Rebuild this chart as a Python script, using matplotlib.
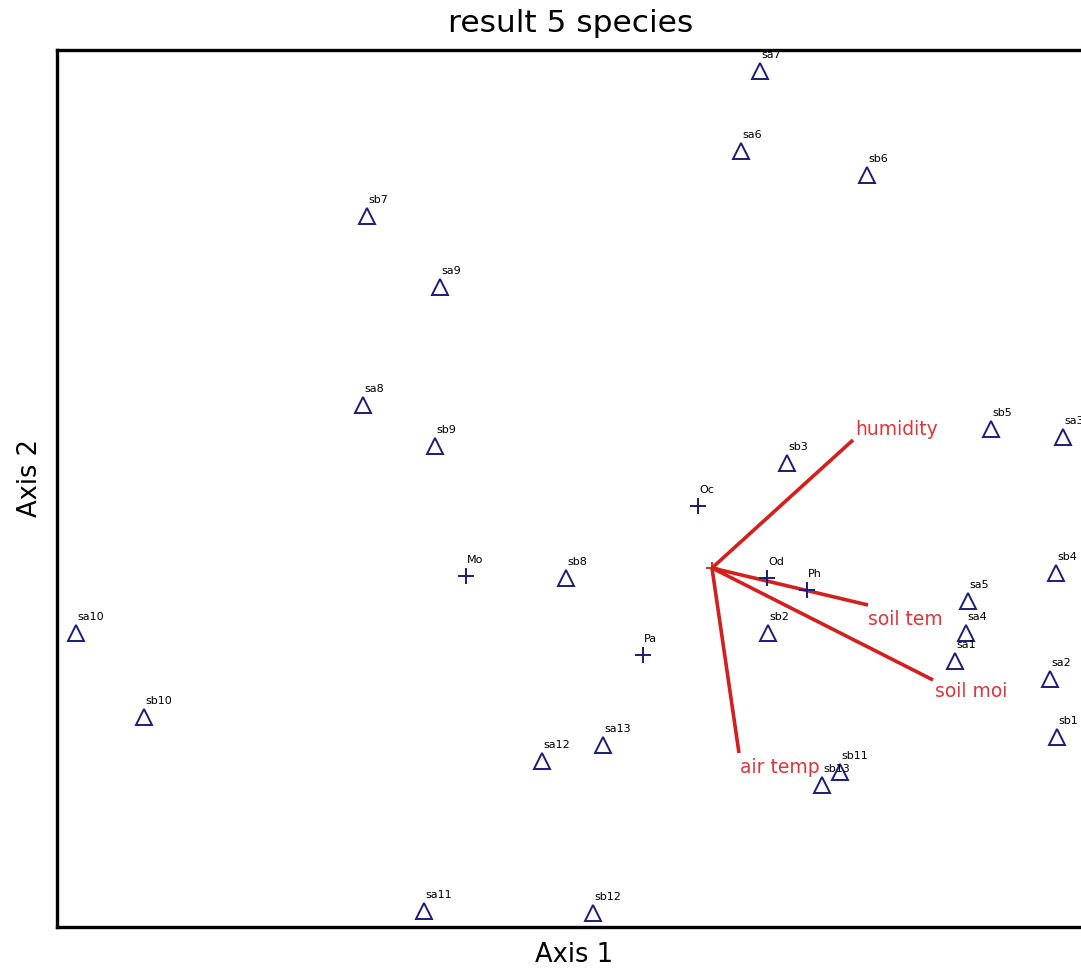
import matplotlib
matplotlib.use("Agg")
import matplotlib.pyplot as plt

plt.rcParams['font.family'] = ['DejaVu Sans']

# Sites (triangles)
site_names = ["sa7", "sa6", "sb6", "sb7", "sa9", "sa8", "sb9", "sb5", "sa3", "sb3",
              "sb4", "sb8", "sa5", "sb2", "sa4", "sa10", "sa1", "sa2", "sb10", "sb1",
              "sa13", "sa12", "sb11", "sb13", "sa11", "sb12"]
site_x = [0.48, 0.29, 1.55, -3.45, -2.72, -3.49, -2.77, 2.79, 3.51, 0.75,
          3.44, -1.46, 2.56, 0.56, 2.54, -6.36, 2.43, 3.38, -5.68, 3.45,
          -1.09, -1.70, 1.28, 1.10, -2.88, -1.19]
site_y = [4.97, 4.17, 3.93, 3.52, 2.81, 1.63, 1.22, 1.39, 1.31, 1.05,
          -0.05, -0.10, -0.33, -0.65, -0.65, -0.65, -0.93, -1.11, -1.49, -1.69,
          -1.77, -1.93, -2.04, -2.17, -3.43, -3.45]

# Species (plus signs)
species_names = ["Oc", "Mo", "Od", "Ph", "Pa"]
species_x = [-0.14, -2.46, 0.55, 0.95, -0.69]
species_y = [0.62, -0.08, -0.10, -0.22, -0.87]

# Environmental vectors
env_names = ["humidity", "soil tem", "soil moi", "air temp"]
env_x = [1.41, 1.56, 2.21, 0.27]
env_y = [1.28, -0.37, -1.12, -1.85]
env_label_offset = [(2, -11), (0, 14), (2, 11), (1, 14)]  # pixels (right, down)

fig = plt.figure(figsize=(10.81, 9.72), dpi=100)
W, H = 1081, 972
left_px, right_px, top_px, bottom_px = 57, 1092, 50, 927
ax = fig.add_axes([left_px / W, 1 - bottom_px / H, (right_px - left_px) / W,
                   (bottom_px - top_px) / H])
ax.set_xlim((left_px - 712) / 100, (right_px - 712) / 100)
ax.set_ylim((568 - bottom_px) / 100, (568 - top_px) / 100)
ax.set_xticks([])
ax.set_yticks([])
for s in ax.spines.values():
    s.set_linewidth(2.4)
    s.set_color('black')

navy = '#1c1c7a'
ax.plot(site_x, site_y, linestyle='none', marker='^', markersize=11,
        markerfacecolor='none', markeredgecolor=navy, markeredgewidth=1.4, zorder=3)
ax.plot(species_x, species_y, linestyle='none', marker='+', markersize=11,
        markeredgecolor=navy, markeredgewidth=1.4, zorder=3)

for n, x, y in zip(site_names + species_names, site_x + species_x, site_y + species_y):
    ax.annotate(n, (x, y), xytext=(1, 11), textcoords='offset pixels',
                fontsize=8, color='black', ha='left', va='bottom', zorder=4)

red_line = '#d41f1f'
red_text = '#e0353a'
for n, x, y, (dx, dy) in zip(env_names, env_x, env_y, env_label_offset):
    ax.plot([0, x], [0, y], color=red_line, linewidth=2.6, solid_capstyle='butt', zorder=2)
    ax.annotate(n, (x, y), xytext=(dx, -dy), textcoords='offset pixels',
                fontsize=13.5, color=red_text, ha='left', va='center', zorder=4)
ax.plot([0], [0], marker='+', markersize=9, color=red_line, markeredgewidth=1.3, zorder=2)

fig.text(571 / W, 1 - 23 / H, "result 5 species", fontsize=22.5, ha='center', va='center')
fig.text(574 / W, 1 - 955 / H, "Axis 1", fontsize=18.5, ha='center', va='center')
fig.text(30 / W, 1 - 478 / H, "Axis 2", fontsize=18.5, ha='center', va='center', rotation=90)

fig.savefig("out.png", dpi=100)
